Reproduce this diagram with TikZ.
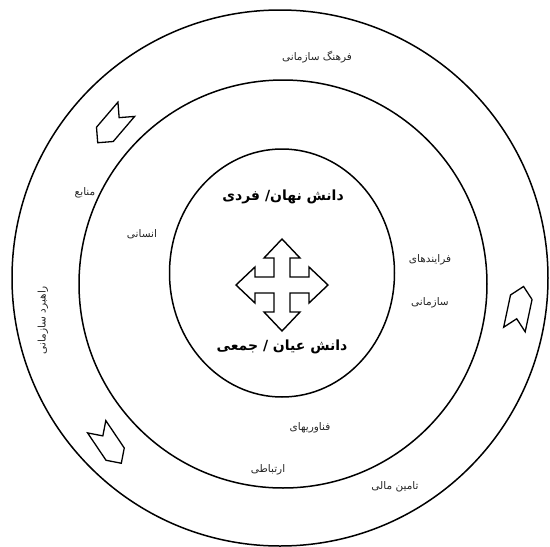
\documentclass[tikz,border=0pt]{standalone}
\usepackage{fontspec}
\usetikzlibrary{shapes.geometric,shapes.symbols}
\newfontfamily\farsifont[Script=Arabic]{DejaVu Sans}
\TeXXeTstate=1
\newcommand\fatext[1]{\beginR #1\endR}

\begin{document}
\begin{tikzpicture}[x=1pt, y=-1pt,
    every node/.style={font=\farsifont\fontsize{10.5}{12}\selectfont, text=black!85},
    ring/.style={draw, line width=1.5pt, inner sep=0pt},
    heading/.style={font=\farsifont\bfseries\fontsize{14}{16}\selectfont, text=black},
    chev/.style={draw, signal, signal to=east, signal from=west, line width=1.3pt,
      minimum width=44pt, minimum height=22pt, inner sep=0pt}]
  \useasboundingbox (0,0) rectangle (550,547);
  % three rings
  \node[ring, circle, minimum size=536pt] (outer) at (280,278) {};
  \node[ring, circle, minimum size=408pt] (middle) at (283,284) {};
  \node[ring, ellipse, minimum width=225pt, minimum height=248pt] (inner) at (282,273) {};
  % inner circle
  \node[heading] (tacit) at (283,197) {\fatext{دانش نهان/ فردی}};
  \node[heading] (explicit) at (282,347) {\fatext{دانش عیان / جمعی}};
  \begin{scope}[shift={(282,285)}, line width=1.4pt, line join=miter]
    \draw (0,-46) -- (18,-27) -- (8,-27) -- (8,-8) -- (27,-8) -- (27,-18) -- (46,0)
      -- (27,18) -- (27,8) -- (8,8) -- (8,27) -- (18,27) -- (0,46)
      -- (-18,27) -- (-8,27) -- (-8,8) -- (-27,8) -- (-27,18) -- (-46,0)
      -- (-27,-18) -- (-27,-8) -- (-8,-8) -- (-8,-27) -- (-18,-27) -- cycle;
  \end{scope}
  % middle ring
  \node (res1) at (85,193) {\fatext{منابع}};
  \node (res2) at (142,234) {\fatext{انسانی}};
  \node (proc1) at (430,260) {\fatext{فرایندهای}};
  \node (proc2) at (430,303) {\fatext{سازمانی}};
  \node (tech1) at (310,428) {\fatext{فناوریهای}};
  \node (tech2) at (268,470) {\fatext{ارتباطی}};
  % outer ring
  \node (culture) at (317,57) {\fatext{فرهنگ سازمانی}};
  \node[rotate=90] (strategy) at (43,320) {\fatext{راهبرد سازمانی}};
  \node (finance) at (395,487) {\fatext{تامین مالی}};
  \node[chev, rotate=229.5] (arrA) at (112,126) {};
  \node[chev, rotate=78] (arrB) at (519,308) {};
  \node[chev, rotate=304] (arrC) at (109,445) {};
\end{tikzpicture}
\end{document}
